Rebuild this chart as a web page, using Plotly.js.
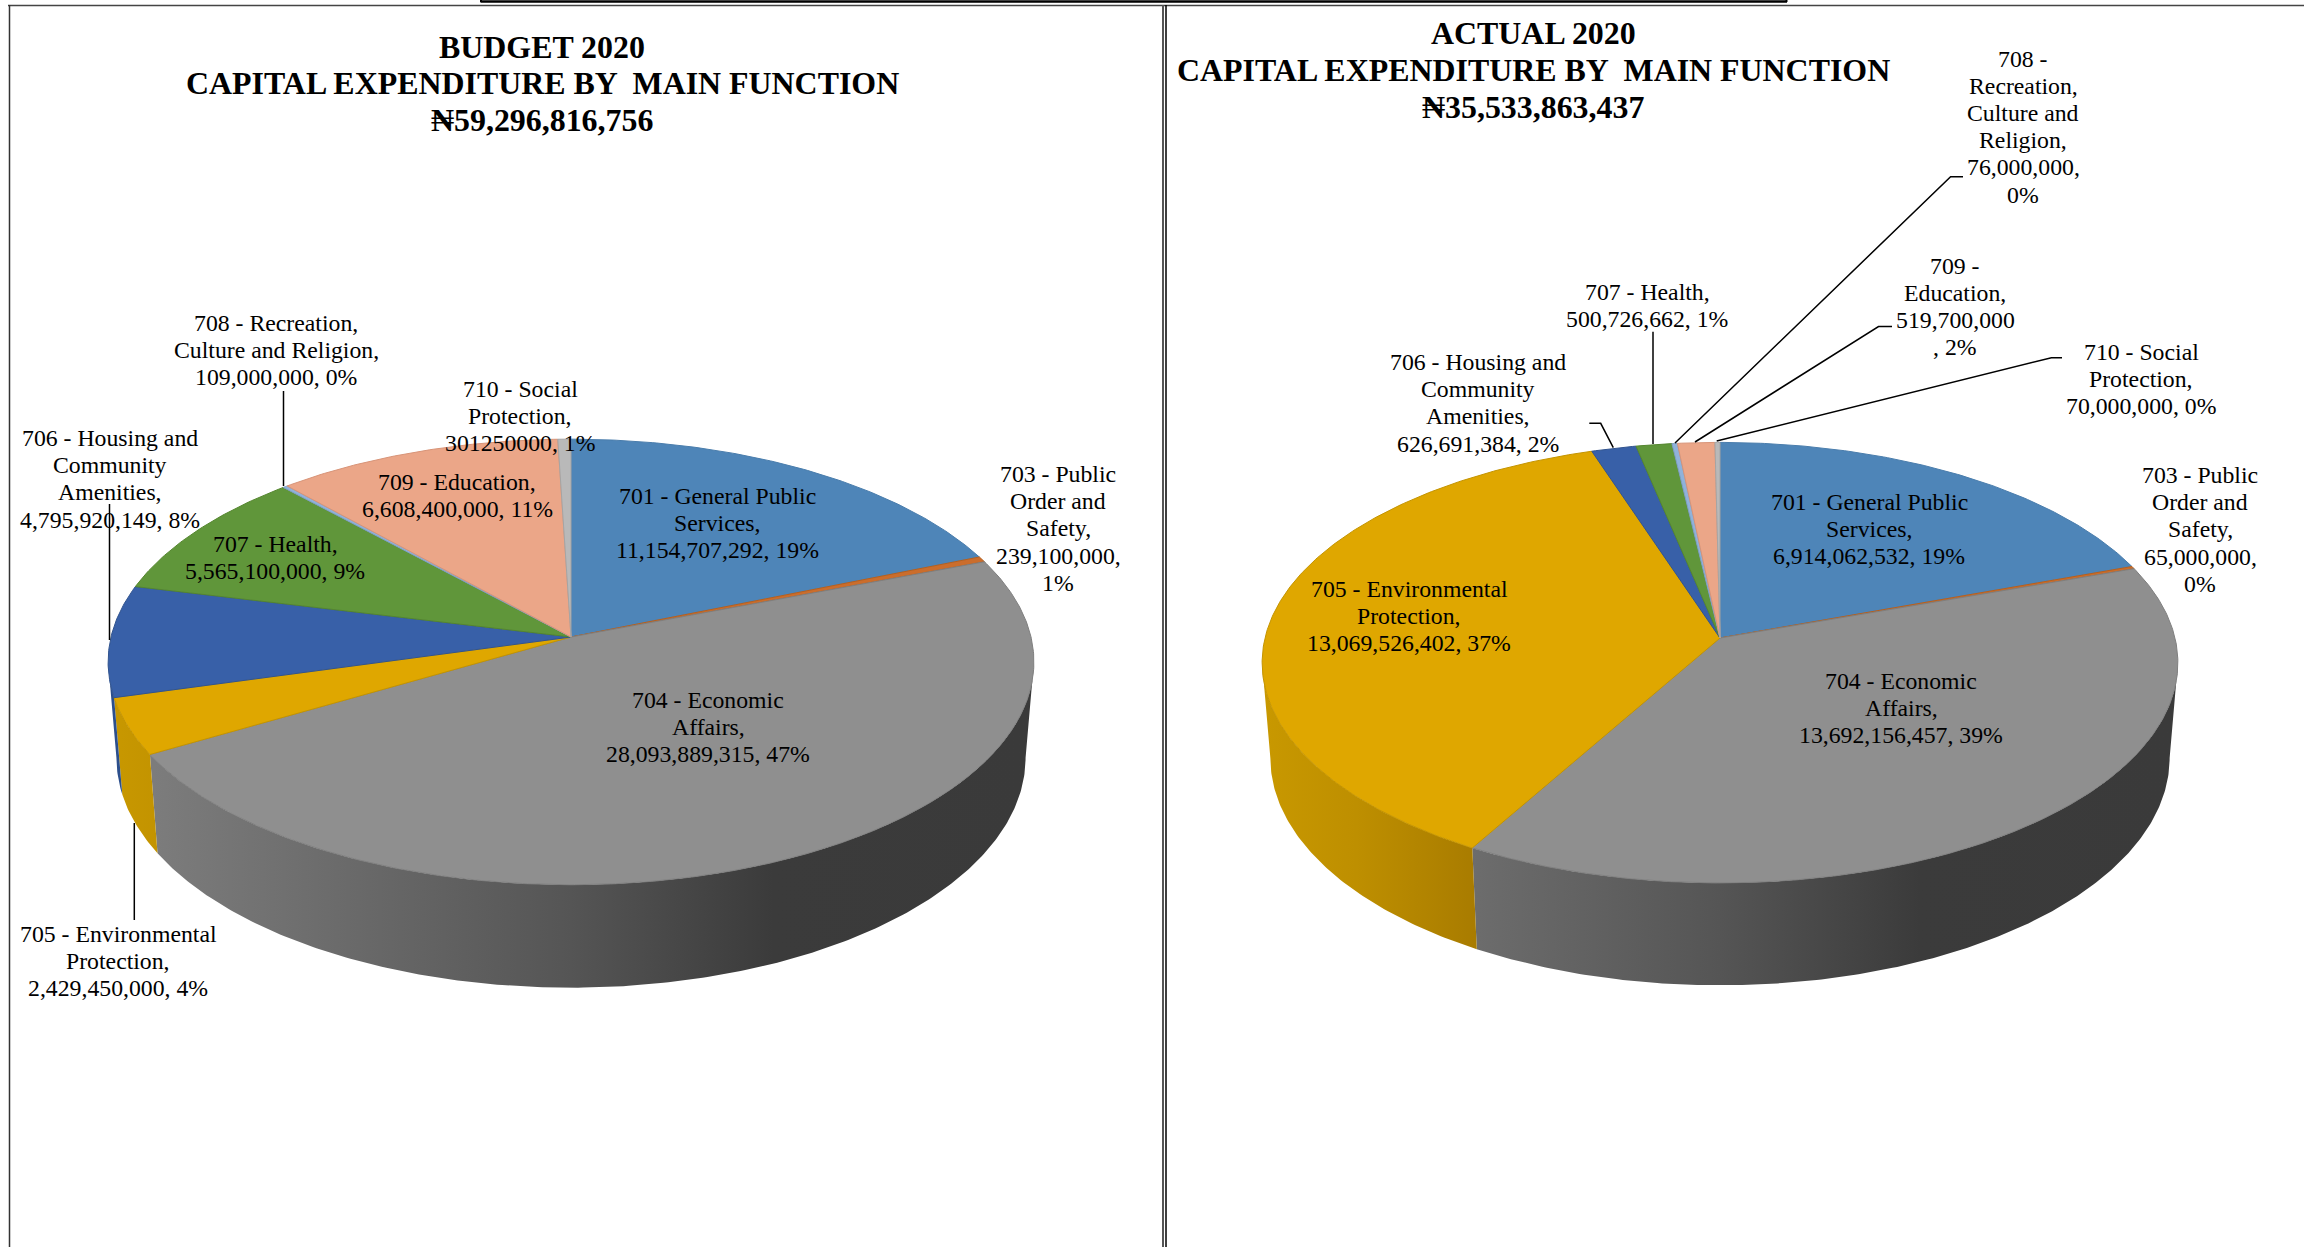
<!DOCTYPE html>
<html>
<head>
<meta charset="utf-8">
<title>Capital expenditure by main function, 2020</title>
<script src="https://cdn.plot.ly/plotly-3.0.1.min.js"></script>
<style>html,body{margin:0;padding:0;background:#fff}#chart{width:2304px;height:1247px}</style>
</head>
<body>
<div id="chart"></div>
<script>
// Function codes in clockwise order from twelve o'clock
const functions = ['701 General Public Services', '703 Public Order and Safety', '704 Economic Affairs',
  '705 Environmental Protection', '706 Housing and Community Amenities', '707 Health',
  '708 Recreation, Culture and Religion', '709 Education', '710 Social Protection'];
const budget2020 = [11154707292, 239100000, 28093889315, 2429450000, 4795920149, 5565100000, 109000000, 6608400000, 301250000];
const actual2020 = [6914062532, 65000000, 13692156457, 13069526402, 626691384, 500726662, 76000000, 519700000, 70000000];

const topColors = ['#4e85b8', '#cb6d2c', '#8f8f8f', '#dfa700', '#3860a8', '#60963a', '#90b2da', '#eba688', '#b9b9b9'];
const edgeColors = ['#4a7dac', '#b5601f', '#7f7f7f', '#c49400', '#31548f', '#55862f', '#7f9fc4', '#d89478', '#a5a5a5'];
// Shaded wall colours: [fraction across the pie, colour]
const wallShades = [
  [[0, '#2c4f8c'], [1, '#2c4f8c']],
  [[0, '#8a4a1c'], [1, '#8a4a1c']],
  [[0, '#808080'], [0.2, '#6f6f6f'], [0.5, '#555555'], [0.72, '#3b3b3b'], [1, '#3a3a3a']],
  [[0, '#c89800'], [0.1, '#be8f00'], [0.23, '#a97c00'], [1, '#a97c00']],
  [[0, '#2c4f8c'], [1, '#2c4f8c']],
  [[0, '#4e7a2e'], [1, '#4e7a2e']],
  [[0, '#7690b0'], [1, '#7690b0']],
  [[0, '#c08a70'], [1, '#c08a70']],
  [[0, '#969696'], [1, '#969696']]
];

// Perspective disc: a = half width, b = vertical scale, p = foreshortening,
// depth = wall height at the sides, shrink / stretch = lower rim scale in x / y
const budgetDisc = {cx: 571, cy: 637, a: 460, b: 220, p: 0.112, depth: 95, shrink: 0.982, stretch: 1.032};
const actualDisc = {cx: 1720, cy: 638, a: 455, b: 217.5, p: 0.112, depth: 94.5, shrink: 0.982, stretch: 1.032};

const titleFont = {family: '"Liberation Serif", serif', size: 31.9, color: '#000'};
const labelFont = {family: '"Liberation Serif", serif', size: 23.75, color: '#000'};

const budgetTitle = {x: 542, y: [47, 83.5, 120.5], lines: ['BUDGET 2020', 'CAPITAL EXPENDITURE BY  MAIN FUNCTION', '₦59,296,816,756']};
const actualTitle = {x: 1533, y: [33, 70, 107], lines: ['ACTUAL 2020', 'CAPITAL EXPENDITURE BY  MAIN FUNCTION', '₦35,533,863,437']};

const budgetLabels = [
  {x: 717, y: 496, lines: ['701 - General Public', 'Services,', '11,154,707,292, 19%']},
  {x: 1058, y: 474, lines: ['703 - Public', 'Order and', 'Safety,', '239,100,000,', '1%']},
  {x: 708, y: 700, lines: ['704 - Economic', 'Affairs,', '28,093,889,315, 47%']},
  {x: 118, y: 934, lines: ['705 - Environmental', 'Protection,', '2,429,450,000, 4%']},
  {x: 110, y: 438, lines: ['706 - Housing and', 'Community', 'Amenities,', '4,795,920,149, 8%']},
  {x: 275, y: 544, lines: ['707 - Health,', '5,565,100,000, 9%']},
  {x: 276, y: 323, lines: ['708 - Recreation,', 'Culture and Religion,', '109,000,000, 0%']},
  {x: 457, y: 482, lines: ['709 - Education,', '6,608,400,000, 11%']},
  {x: 520, y: 389, lines: ['710 - Social', 'Protection,', '301250000, 1%']}
];
const actualLabels = [
  {x: 1869, y: 502, lines: ['701 - General Public', 'Services,', '6,914,062,532, 19%']},
  {x: 2200, y: 475, lines: ['703 - Public', 'Order and', 'Safety,', '65,000,000,', '0%']},
  {x: 1901, y: 681, lines: ['704 - Economic', 'Affairs,', '13,692,156,457, 39%']},
  {x: 1409, y: 589, lines: ['705 - Environmental', 'Protection,', '13,069,526,402, 37%']},
  {x: 1478, y: 362, lines: ['706 - Housing and', 'Community', 'Amenities,', '626,691,384, 2%']},
  {x: 1647, y: 291.5, lines: ['707 - Health,', '500,726,662, 1%']},
  {x: 2023, y: 58.5, lines: ['708 -', 'Recreation,', 'Culture and', 'Religion,', '76,000,000,', '0%']},
  {x: 1955, y: 265.5, lines: ['709 -', 'Education,', '519,700,000', ', 2%']},
  {x: 2141, y: 352, lines: ['710 - Social', 'Protection,', '70,000,000, 0%']}
];

// Leader polylines from label to rim
const leaders = [
  {x: [283.5, 283.5], y: [391, 486]},
  {x: [109.5, 109.5], y: [504, 640]},
  {x: [134.3, 134.3], y: [823, 920]},
  {x: [1963, 1950.6, 1675], y: [176.7, 176.7, 443]},
  {x: [1892, 1878.5, 1695], y: [326.5, 326.5, 442]},
  {x: [2062, 2051.4, 1716.7], y: [357.7, 357.7, 441]},
  {x: [1653, 1653], y: [331.7, 444]},
  {x: [1589.3, 1600.7, 1613.3], y: [423.3, 423.3, 447.7]}
];

// Position on the rim for a clockwise angle from twelve o'clock
function rimPoint(d, theta, lower) {
  const u = Math.sin(theta), v = Math.cos(theta), w = 1 + d.p * v;
  const kx = lower ? d.shrink : 1, ky = lower ? d.stretch : 1;
  return [d.cx + kx * d.a * u / w, d.cy - ky * d.b * v / w + (lower ? d.depth : 0)];
}

function arc(d, from, to, lower) {
  const n = Math.max(2, Math.ceil(Math.abs(to - from) / 0.01));
  const pts = [];
  for (let i = 0; i <= n; i++) pts.push(rimPoint(d, from + (to - from) * i / n, lower));
  return pts;
}

function drawPie(values, d) {
  const total = values.reduce((s, v) => s + v, 0);
  const walls = [], tops = [];
  // Rim angle where the disc outline turns away from the viewer
  const sideStart = Math.acos(-d.p), sideEnd = 2 * Math.PI - sideStart;
  const left = d.cx - d.a, span = 2 * d.a;
  let start = 0;
  values.forEach((v, i) => {
    const end = start + v / total * 2 * Math.PI;
    const from = Math.max(start, sideStart), to = Math.min(end, sideEnd);
    if (to > from) {
      const upper = arc(d, from, to, false), lower = arc(d, to, from, true);
      const pts = upper.concat(lower);
      pts.push(pts[0]);
      walls.push({
        type: 'scatter', mode: 'lines', name: functions[i] + ' wall', hoverinfo: 'skip',
        x: pts.map(q => q[0]), y: pts.map(q => q[1]), fill: 'toself',
        line: {width: 0, color: wallShades[i][0][1]},
        fillgradient: {type: 'horizontal', start: left, stop: left + span, colorscale: wallShades[i]}
      });
    }
    const pts = [[d.cx, d.cy]].concat(arc(d, start, end, false));
    pts.push([d.cx, d.cy]);
    tops.push({
      type: 'scatter', mode: 'lines', name: functions[i], hoverinfo: 'name',
      x: pts.map(q => q[0]), y: pts.map(q => q[1]), fill: 'toself', fillcolor: topColors[i],
      line: {width: 1, color: edgeColors[i]}
    });
    start = end;
  });
  return walls.concat(tops);
}

function textLines(block, font, lineGap, isTitle) {
  return block.lines.map((line, i) => ({
    xref: 'x', yref: 'y', x: block.x, y: (isTitle ? block.y[i] : block.y + i * lineGap),
    text: isTitle ? '<b>' + line + '</b>' : line,
    showarrow: false, xanchor: 'center', yanchor: 'middle', font: font
  }));
}

const leaderTraces = leaders.map(l => ({
  type: 'scatter', mode: 'lines', x: l.x, y: l.y, hoverinfo: 'skip',
  line: {color: '#000', width: 1.5}
}));

function frame(x0, y0, x1, y1, color, width) {
  return {type: 'line', xref: 'x', yref: 'y', x0, y0, x1, y1, line: {color, width}, layer: 'above'};
}

const labelGap = 27.2;
const annotations = []
  .concat(textLines(budgetTitle, titleFont, 0, true))
  .concat(textLines(actualTitle, titleFont, 0, true));
budgetLabels.concat(actualLabels).forEach(b => annotations.push(...textLines(b, labelFont, labelGap, false)));

const layout = {
  width: 2304, height: 1247,
  margin: {l: 0, r: 0, t: 0, b: 0},
  paper_bgcolor: '#fff', plot_bgcolor: '#fff',
  showlegend: false,
  xaxis: {range: [0, 2304], visible: false, fixedrange: true},
  yaxis: {range: [1247, 0], visible: false, fixedrange: true},
  annotations,
  shapes: [
    frame(8, 5.5, 2304, 5.5, '#444', 1.5),
    frame(9.5, 5, 9.5, 1247, '#333', 1.5),
    frame(1163, 5, 1163, 1247, '#555', 2),
    frame(1166, 5, 1166, 1247, '#000', 1.5),
    frame(480.5, 1.5, 1787, 1.5, '#000', 2.5),
    frame(481, 0, 481, 2, '#000', 2),
    frame(1786.5, 0, 1786.5, 2, '#000', 2)
  ]
};

Plotly.newPlot('chart', drawPie(budget2020, budgetDisc).concat(drawPie(actual2020, actualDisc)).concat(leaderTraces), layout, {displayModeBar: false, staticPlot: true});
</script>
</body>
</html>
